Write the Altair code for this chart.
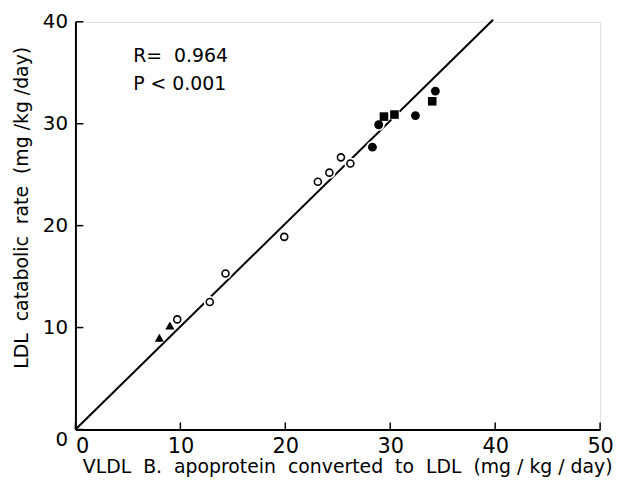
import altair as alt
import pandas as pd

# ---- data ----
open_x = [9.7, 12.8, 14.3, 19.9, 23.1, 24.2, 25.3, 26.2]
open_y = [10.8, 12.5, 15.3, 18.9, 24.3, 25.2, 26.7, 26.1]

filled_x = [28.3, 28.9, 32.4, 34.3]
filled_y = [27.7, 29.9, 30.8, 33.2]

square_x = [29.4, 30.4, 34.0]
square_y = [30.7, 30.9, 32.2]

tri_x = [8.0, 9.0]
tri_y = [9.0, 10.2]

line_x = [0.0, 39.8]
line_y = [0.0, 40.2]

x_ticks = [0, 10, 20, 30, 40, 50]
y_ticks = [0, 10, 20, 30, 40]

annot_x = [5.5, 5.5]
annot_y = [36.6, 33.9]
annot_text = ["R=\u00a0 0.964", "P < 0.001"]

W, H = 529, 411
FONT = "DejaVu Sans"

x_scale = alt.Scale(domain=[0, 50], nice=False, zero=True)
y_scale = alt.Scale(domain=[0, 40], nice=False, zero=True)

x_axis = alt.Axis(
    values=x_ticks, tickSize=0, grid=False,
    domainColor="black", domainWidth=2,
    labelFont=FONT, labelFontSize=21, labelColor="black", labelPadding=6,
    labelAlign=alt.condition("datum.value == 0", alt.value("left"), alt.value("center")),
    title="VLDL\u00a0 B.\u00a0 apoprotein\u00a0 converted\u00a0 to\u00a0 LDL\u00a0 (mg\u00a0/\u00a0kg\u00a0/\u00a0day)",
    titleFont=FONT, titleFontSize=19, titleFontWeight="normal", titleColor="black",
    titleX=274, titleY=43, titleAlign="center", titleBaseline="alphabetic",
)
y_axis = alt.Axis(
    values=y_ticks, tickSize=0, grid=False,
    domainColor="black", domainWidth=2,
    labelFont=FONT, labelFontSize=20, labelColor="black", labelPadding=8,
    labelBaseline=alt.condition("datum.value == 0", alt.value("top"), alt.value("middle")),
    title="LDL\u00a0 catabolic\u00a0 rate\u00a0 (mg\u00a0/kg\u00a0/day)",
    titleFont=FONT, titleFontSize=19, titleFontWeight="normal", titleColor="black",
    titleX=-54, titleY=187, titleAngle=270, titleAlign="center", titleBaseline="middle",
)

X = alt.X("x:Q", scale=x_scale, axis=x_axis)
Y = alt.Y("y:Q", scale=y_scale, axis=y_axis)

line_df = pd.DataFrame({"x": line_x, "y": line_y})
open_df = pd.DataFrame({"x": open_x, "y": open_y})
filled_df = pd.DataFrame({"x": filled_x, "y": filled_y})
square_df = pd.DataFrame({"x": square_x, "y": square_y})
tri_df = pd.DataFrame({"x": tri_x, "y": tri_y})
all_df = pd.concat([open_df, filled_df, square_df, tri_df], ignore_index=True)
xt_df = pd.DataFrame({"x": x_ticks})
yt_df = pd.DataFrame({"y": y_ticks})
annot_df = pd.DataFrame({"x": annot_x, "y": annot_y, "label": annot_text})

line = alt.Chart(line_df).mark_line(color="black", strokeWidth=2).encode(x=X, y=Y)

halo = alt.Chart(all_df).mark_point(shape="circle", filled=True, color="white", opacity=1, size=150).encode(x=X, y=Y)

open_pts = alt.Chart(open_df).mark_point(shape="circle", filled=False, stroke="black", strokeWidth=1.6, opacity=1, size=50, fill="white", fillOpacity=1).encode(x=X, y=Y)
filled_pts = alt.Chart(filled_df).mark_point(shape="circle", filled=True, color="black", opacity=1, size=80).encode(x=X, y=Y)
square_pts = alt.Chart(square_df).mark_point(shape="square", filled=True, color="black", opacity=1, size=75).encode(x=X, y=Y)
tri_pts = alt.Chart(tri_df).mark_point(shape="triangle-up", filled=True, color="black", opacity=1, size=85).encode(x=X, y=Y)

xticks = alt.Chart(xt_df).mark_rule(color="black", strokeWidth=1.5).encode(
    x=X, y=alt.value(H), y2=alt.value(H - 7))
yticks = alt.Chart(yt_df).mark_rule(color="black", strokeWidth=1.5).encode(
    y=Y, x=alt.value(0), x2=alt.value(8))

annot = alt.Chart(annot_df).mark_text(
    align="left", baseline="middle", font=FONT, fontSize=19, color="black"
).encode(x=X, y=Y, text="label:N")

chart = alt.layer(line, halo, open_pts, filled_pts, square_pts, tri_pts, xticks, yticks, annot).properties(
    width=W, height=H,
    padding={"left": 68, "top": 12, "right": 14, "bottom": 46},
    autosize=alt.AutoSizeParams(type="none"),
).configure_view(stroke=None).configure(font=FONT, background="white")

chart.save("out.html", embed_options={"renderer": "svg", "actions": False})
